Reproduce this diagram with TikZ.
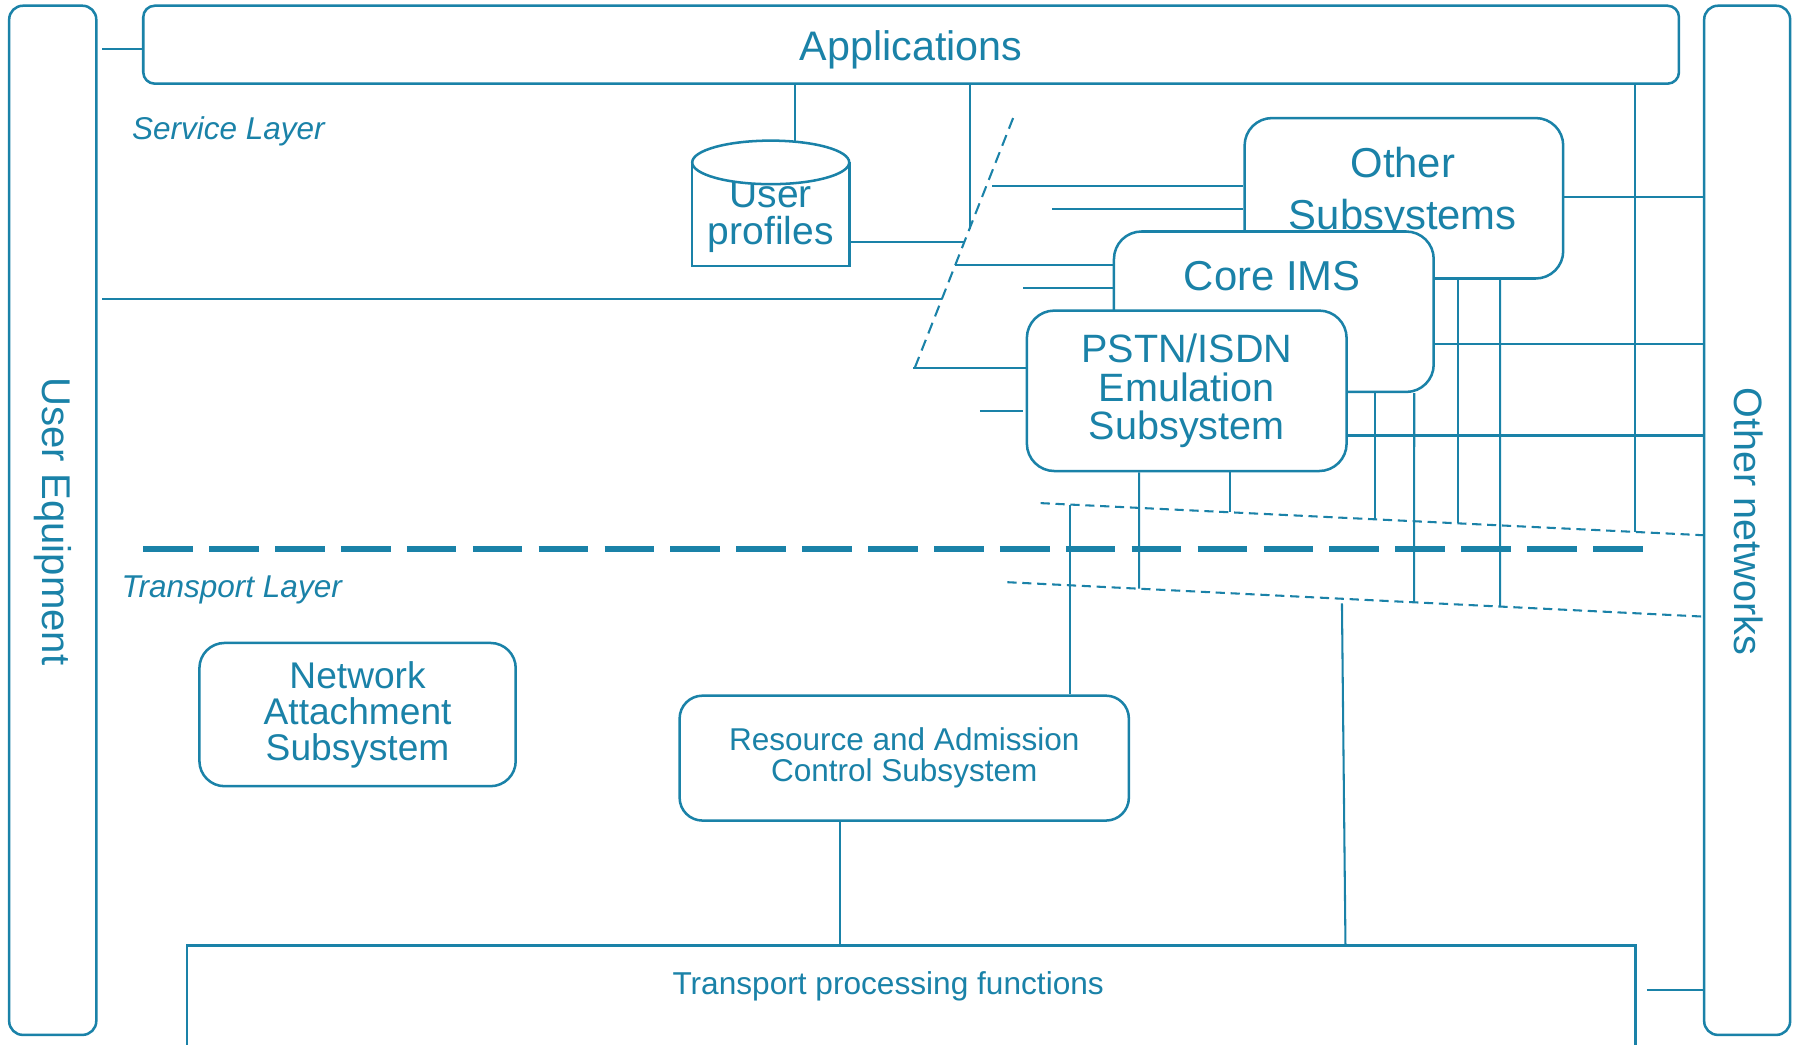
\documentclass[tikz,border=0pt]{standalone}
\usepackage{fontspec}
\setmainfont{Liberation Sans}
\usetikzlibrary{calc}
\definecolor{tl}{RGB}{26,130,168}
\newcommand\fz[2]{\fontsize{#1}{#2}\selectfont}
\begin{document}
\begin{tikzpicture}[x=1pt,y=-1pt,
  box/.style={draw=tl, line width=2.2pt, fill=white, inner sep=0pt, rounded corners=#1},
  box/.default=22pt,
  lbl/.style={text=tl, inner sep=0pt, align=center},
  ln/.style={draw=tl, line width=1.8pt},
  dsh/.style={draw=tl, line width=1.8pt, dash pattern=on 10pt off 6pt},
  dot/.style={draw=tl, line width=1.8pt, dash pattern=on 8pt off 5pt}]
\clip (0,0) rectangle (1568,911);
\fill[white] (0,0) rectangle (1568,911);

% side boxes
\node[box=12pt, minimum width=76pt, minimum height=898pt] (ue) at (46,454) {};
\node[lbl, rotate=-90, font=\fz{35}{35}] (ueT) at (46,455) {User Equipment};
\node[box=12pt, minimum width=75pt, minimum height=898pt] (on) at (1524.5,454) {};
\node[lbl, rotate=-90, font=\fz{34.5}{35}] (onT) at (1526,455) {Other networks};

% applications
\node[box=10pt, minimum width=1340pt, minimum height=68pt] (apps) at (795,39) {};
\node[lbl, font=\fz{36}{36}] (appsT) at (795,43.3) {Applications};

% layer labels
\node[lbl, anchor=base west, font=\fz{27.5}{28}\itshape] (sl) at (115,122) {Service Layer};
\node[lbl, anchor=base west, font=\fz{27.5}{28}\itshape] (tlay) at (106,521) {Transport Layer};

% big layer separator
\draw[tl, line width=5pt, dash pattern=on 43.3pt off 14.2pt] (125,479) -- (1435,479);

% diagonal and dotted guide lines
\coordinate (g1) at (884,103);
\coordinate (g2) at (797,324);
\draw[dsh] (g1) -- (g2);
\coordinate (u1) at (908,439);
\coordinate (u2) at (on.west |- 0,467);
\coordinate (l1) at (879,508);
\coordinate (l2) at (on.west |- 0,538);
\draw[dot] (u1) -- (u2);
\draw[dot] (l1) -- (l2);

% user profiles cylinder
\node[inner sep=0pt, minimum width=137pt, minimum height=109pt] (up) at (672.5,177.5) {};
\draw[tl, line width=2.2pt] (up.north west |- 0,141.7) -- (up.south west) -- (up.south east) -- (up.north east |- 0,141.7);
\node[lbl, font=\fz{34}{32}] (upT) at (672.5,189) {User\\profiles};
\draw[tl, line width=2.2pt, fill=white] (672.5,141.7) ellipse [x radius=68.5pt, y radius=19pt];

% subsystem boxes
\node[box=24pt, minimum width=278pt, minimum height=140pt] (osub) at (1225,173) {};
\node[lbl, font=\fz{36.5}{45}] (osubT) at (1224,168) {Other\\Subsystems};
\node[box=24pt, minimum width=279pt, minimum height=140pt] (cims) at (1111.5,272) {};
\node[lbl, font=\fz{36.5}{36}] (cimsT) at (1110,241) {Core IMS};
\node[box=24pt, minimum width=279pt, minimum height=140pt, lbl, font=\fz{34.5}{34}] (pstn) at (1035.5,341) {PSTN/ISDN\\Emulation\\Subsystem};

% transport boxes
\node[box=22pt, minimum width=276pt, minimum height=125pt, lbl, font=\fz{32.4}{31.5}] (nas) at (312,623.5) {Network\\Attachment\\Subsystem};
\node[box=20pt, minimum width=392pt, minimum height=109pt, lbl, font=\fz{27.5}{27}] (racs) at (789,661.5) {Resource and Admission\\Control Subsystem};
\node[draw=tl, line width=2.2pt, fill=white, inner sep=0pt, minimum width=1264pt, minimum height=150pt] (tpf) at (795,900) {};
\node[lbl, font=\fz{27.6}{28}] (tpfT) at (775,861) {Transport processing functions};

% connectors: left part
\draw[ln] ([xshift=4pt]ue.east |- 0,43) -- (apps.west |- 0,43);
\draw[ln] ([xshift=4pt]ue.east |- 0,261) -- (intersection of g1--g2 and 0,261--900,261);
\draw[ln] (apps.south -| 694,0) -- (up.north -| 694,0);
\draw[ln] (apps.south -| 846,0) -- (intersection of g1--g2 and 846,0--846,400);
\draw[ln] (up.east |- 0,211) -- (intersection of g1--g2 and 0,211--900,211);
\draw[ln] (866,162) -- (osub.west |- 0,162);
\draw[ln] (918,182) -- (osub.west |- 0,182);
\draw[ln] (intersection of g1--g2 and 0,231--900,231) -- (cims.west |- 0,231);
\draw[ln] (893,251) -- (cims.west |- 0,251);
\draw[ln] (g2 |- 0,321) -- (pstn.west |- 0,321);
\draw[ln] (855,359) -- (893,359);

% connectors: right part
\draw[ln] (osub.east |- 0,172) -- (on.west |- 0,172);
\draw[ln] (cims.east |- 0,300) -- (on.west |- 0,300);
\draw[ln] (pstn.east |- 0,380) -- (on.west |- 0,380);
\draw[ln] (apps.south -| 1427,0) -- (intersection of u1--u2 and 1427,0--1427,900);
\draw[ln] (osub.south -| 1272,0) -- (intersection of u1--u2 and 1272,0--1272,900);
\draw[ln] (osub.south -| 1309,0) -- (intersection of l1--l2 and 1309,0--1309,900);
\draw[ln] (cims.south -| 1200,0) -- (intersection of u1--u2 and 1200,0--1200,900);
\draw[ln] (cims.south -| 1234,0) -- (intersection of l1--l2 and 1234,0--1234,900);
\draw[ln] (pstn.south -| 994,0) -- (intersection of l1--l2 and 994,0--994,900);
\draw[ln] (pstn.south -| 1073,0) -- (intersection of u1--u2 and 1073,0--1073,900);

% connectors: transport part
\draw[ln] (intersection of u1--u2 and 934,0--934,900) -- (racs.north -| 934,0);
\draw[ln] ([yshift=-4pt]intersection of l1--l2 and 1171,0--1171,900) -- (tpf.north -| 1174,0);
\draw[ln] (racs.south -| 733,0) -- (tpf.north -| 733,0);
\draw[ln] (1437,864) -- (on.west |- 0,864);
\end{tikzpicture}
\end{document}
